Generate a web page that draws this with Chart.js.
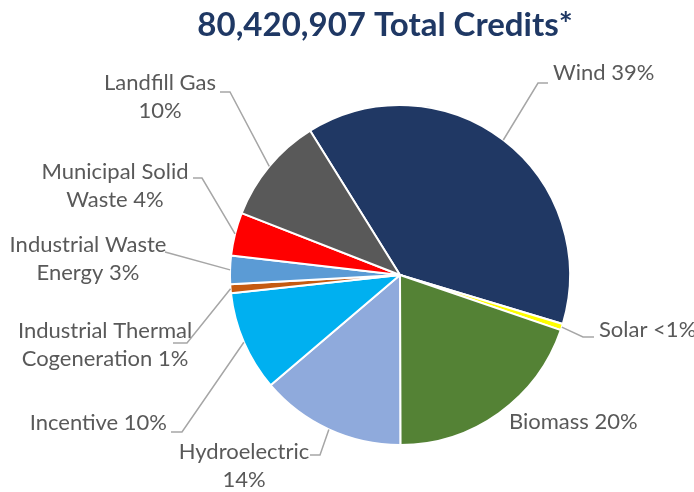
<!DOCTYPE html>
<html>
<head>
<meta charset="utf-8">
<script src="https://cdn.jsdelivr.net/npm/chart.js@4"></script>
<style>
  html, body { margin: 0; padding: 0; background: #fff; }
  canvas { display: block; }
</style>
</head>
<body>
<canvas id="pie" width="694" height="492"></canvas>
<script>
// data
var titleText = '80,420,907 Total Credits*'
var categories = ['Wind', 'Solar', 'Biomass', 'Hydroelectric', 'Incentive',
  'Industrial Thermal Cogeneration', 'Industrial Waste Energy', 'Municipal Solid Waste', 'Landfill Gas']
var shares = [38.5, 0.6, 19.7, 13.8, 9.5, 0.85, 2.7, 4.1, 10.2]
var pctLabels = ['39%', '<1%', '20%', '14%', '10%', '1%', '3%', '4%', '10%']
var colors = ['#203864', '#FFFF00', '#548235', '#8FAADC', '#00B0F0', '#C55A11', '#5B9BD5', '#FF0000', '#595959']

// label layout, px offsets from pie centre
// split = words on first line, line = [elbow, end] of the leader
var labelLayout = [
  { x: 153, y: -202, align: 'left', split: 0, line: [[138, -192], [148, -192]] },
  { x: 199, y: 55, align: 'left', split: 0, line: [[183, 62], [194, 62]] },
  { x: 109, y: 147, align: 'left', split: 0, line: null },
  { x: -156, y: 177, align: 'center', split: 1, line: [[-80, 180], [-90, 180]] },
  { x: -233, y: 148, align: 'right', split: 0, line: [[-218, 157], [-229, 157]] },
  { x: -295, y: 56, align: 'center', split: 2, line: [[-213, 68], [-227, 68]] },
  { x: -312, y: -30, align: 'center', split: 2, line: [[-235, -23]] },
  { x: -285, y: -103, align: 'center', split: 2, line: [[-198, -97], [-207, -97]] },
  { x: -240, y: -192, align: 'center', split: 2, line: [[-170, -183], [-180, -183]] }
]

var sliceLabels = {
  id: 'sliceLabels',
  afterDatasetsDraw(chart) {
    var ctx = chart.ctx
    var arcs = chart.getDatasetMeta(0).data
    ctx.save()
    // title
    ctx.fillStyle = '#1F3864'
    ctx.font = 'bold 33px Lato'
    ctx.textAlign = 'center'
    ctx.textBaseline = 'middle'
    ctx.fillText(titleText, 385, 25)

    ctx.font = '22px Lato'
    arcs.forEach((arc, i) => {
      var p = arc.getProps(['x', 'y', 'startAngle', 'endAngle', 'outerRadius'], true)
      var mid = (p.startAngle + p.endAngle) / 2
      var ax = p.x + Math.cos(mid) * p.outerRadius
      var ay = p.y + Math.sin(mid) * p.outerRadius
      var L = labelLayout[i]
      if (L.line) {
        ctx.strokeStyle = '#A6A6A6'
        ctx.lineWidth = 1.5
        ctx.beginPath()
        ctx.moveTo(ax, ay)
        L.line.forEach(pt => ctx.lineTo(p.x + pt[0], p.y + pt[1]))
        ctx.stroke()
      }
      var words = (categories[i] + ' ' + pctLabels[i]).split(' ')
      var lines = L.split ? [words.slice(0, L.split).join(' '), words.slice(L.split).join(' ')] : [words.join(' ')]
      ctx.fillStyle = '#595959'
      ctx.textAlign = L.align
      ctx.textBaseline = 'middle'
      lines.forEach((t, k) => ctx.fillText(t, p.x + L.x, p.y + L.y + k * 28))
    })
    ctx.restore()
  }
}

var chart = new Chart(document.getElementById('pie').getContext('2d'), {
  type: 'pie',
  plugins: [sliceLabels],
  data: {
    labels: categories,
    datasets: [{
      data: shares,
      backgroundColor: colors,
      borderColor: '#ffffff',
      borderWidth: 2
    }]
  },
  options: {
    responsive: false,
    animation: false,
    rotation: -31.9,
    radius: 170,
    layout: { padding: { left: 230, right: 124, top: 105, bottom: 47 } },
    plugins: {
      legend: { display: false },
      tooltip: { enabled: false }
    }
  }
})
</script>
</body>
</html>
